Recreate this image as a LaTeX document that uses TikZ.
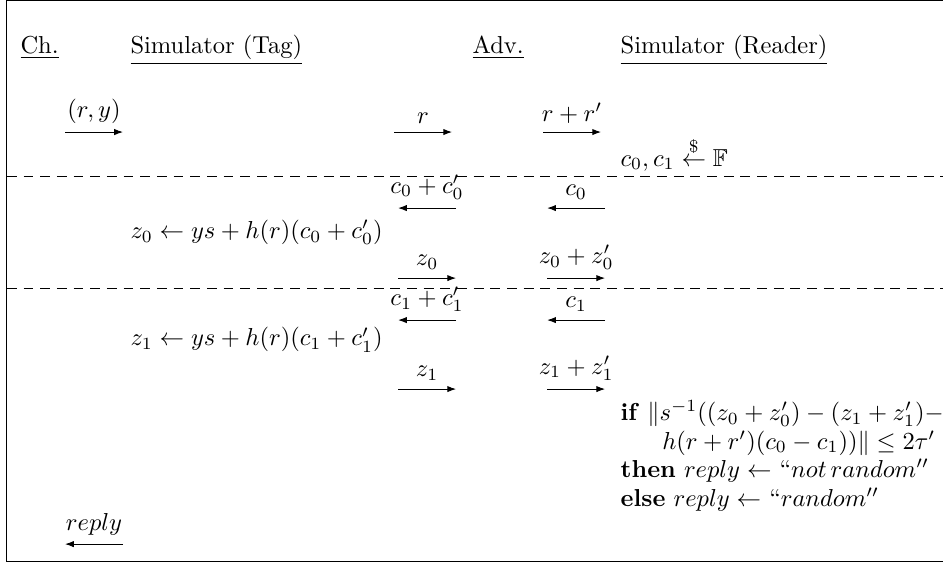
\documentclass[tikz,border=0pt]{standalone}
\usepackage{amsmath,amssymb}
\usetikzlibrary{calc, positioning, arrows.meta}

\begin{document}
\begin{tikzpicture}[>={Latex[length=3.6pt,width=2.6pt]},
        txt/.style={anchor=base west, inner sep=0pt},
        msg/.style={->},
        phase/.style={dash pattern=on 4pt off 2.8pt}]
        \useasboundingbox (0,0) rectangle (13.52,-8.074);

        % frame, open on the right
        \coordinate (ftr) at (13.7,-0.012);
        \coordinate (ftl) at (0.1,-0.012);
        \coordinate (fbl) at (0.1,-8.045);
        \coordinate (fbr) at (13.7,-8.045);
        \draw (ftr) -- (ftl) -- (fbl) -- (fbr);

        % parties
        \node[txt] (ch) at (0.287,-0.774) {\underline{Ch.}};
        \node[txt] (simtag) at (1.864,-0.774) {\underline{Simulator (Tag)}};
        \node[txt] (adv) at (6.768,-0.774) {\underline{Adv.}};
        \node[txt] (simreader) at (8.891,-0.774) {\underline{Simulator (Reader)}};

        % first round
        \coordinate (rys) at (0.932,-1.893);
        \coordinate (rye) at (1.764,-1.893);
        \coordinate (rs) at (5.650,-1.893);
        \coordinate (re) at (6.482,-1.893);
        \coordinate (rrs) at (7.787,-1.893);
        \coordinate (rre) at (8.618,-1.893);
        \draw[msg] (rys) -- node[above] (lry) {$(r,y)$} (rye);
        \draw[msg] (rs) -- node[above] (lr) {$r$} (re);
        \draw[msg] (rrs) -- node[above] (lrr) {$r+r'$} (rre);
        \node[txt] (sample) at (8.891,-2.38) {$c_0,c_1 \mathrel{\overset{\$}{\leftarrow}} \mathbb{F}$};

        \coordinate (ph1w) at (0.1,-2.524);
        \coordinate (ph1e) at (13.7,-2.524);
        \draw[phase] (ph1w) -- (ph1e);

        % challenge c0
        \coordinate (cc0s) at (6.539,-2.983);
        \coordinate (cc0e) at (5.707,-2.983);
        \coordinate (c0s) at (8.676,-2.983);
        \coordinate (c0e) at (7.844,-2.983);
        \draw[msg] (cc0s) -- node[above] (lcc0) {$c_0+c_0'$} (cc0e);
        \draw[msg] (c0s) -- node[above] (lc0) {$c_0$} (c0e);
        \node[txt] (resp0) at (1.864,-3.42) {$z_0 \leftarrow ys + h(r)(c_0 + c_0')$};

        \coordinate (z0s) at (5.707,-3.987);
        \coordinate (z0e) at (6.539,-3.987);
        \coordinate (zz0s) at (7.844,-3.987);
        \coordinate (zz0e) at (8.676,-3.987);
        \draw[msg] (z0s) -- node[above] (lz0) {$z_0$} (z0e);
        \draw[msg] (zz0s) -- node[above] (lzz0) {$z_0+z_0'$} (zz0e);

        \coordinate (ph2w) at (0.1,-4.130);
        \coordinate (ph2e) at (13.7,-4.130);
        \draw[phase] (ph2w) -- (ph2e);

        % challenge c1
        \coordinate (cc1s) at (6.539,-4.589);
        \coordinate (cc1e) at (5.707,-4.589);
        \coordinate (c1s) at (8.676,-4.589);
        \coordinate (c1e) at (7.844,-4.589);
        \draw[msg] (cc1s) -- node[above] (lcc1) {$c_1+c_1'$} (cc1e);
        \draw[msg] (c1s) -- node[above] (lc1) {$c_1$} (c1e);
        \node[txt] (resp1) at (1.864,-4.96) {$z_1 \leftarrow ys + h(r)(c_1 + c_1')$};

        \coordinate (z1s) at (5.707,-5.578);
        \coordinate (z1e) at (6.539,-5.578);
        \coordinate (zz1s) at (7.844,-5.578);
        \coordinate (zz1e) at (8.676,-5.578);
        \draw[msg] (z1s) -- node[above] (lz1) {$z_1$} (z1e);
        \draw[msg] (zz1s) -- node[above] (lzz1) {$z_1+z_1'$} (zz1e);

        % decision
        \node[anchor=north west, inner sep=0pt, align=left,
              font=\fontsize{10}{11.6}\selectfont] (check) at (8.891,-5.74)
            {\textbf{if} $\|s^{-1}((z_0+z_0')-(z_1+z_1')-$\\
             \hspace*{17pt}$h(r+r')(c_0-c_1))\| \leq 2\tau'$\\
             \textbf{then} $reply \leftarrow$ ``$not\,random''$\\
             \textbf{else} $reply \leftarrow$ ``$random''$};

        \coordinate (reps) at (1.764,-7.801);
        \coordinate (repe) at (0.932,-7.801);
        \draw[msg] (reps) -- node[above] (lrep) {$reply$} (repe);
    \end{tikzpicture}
\end{document}
